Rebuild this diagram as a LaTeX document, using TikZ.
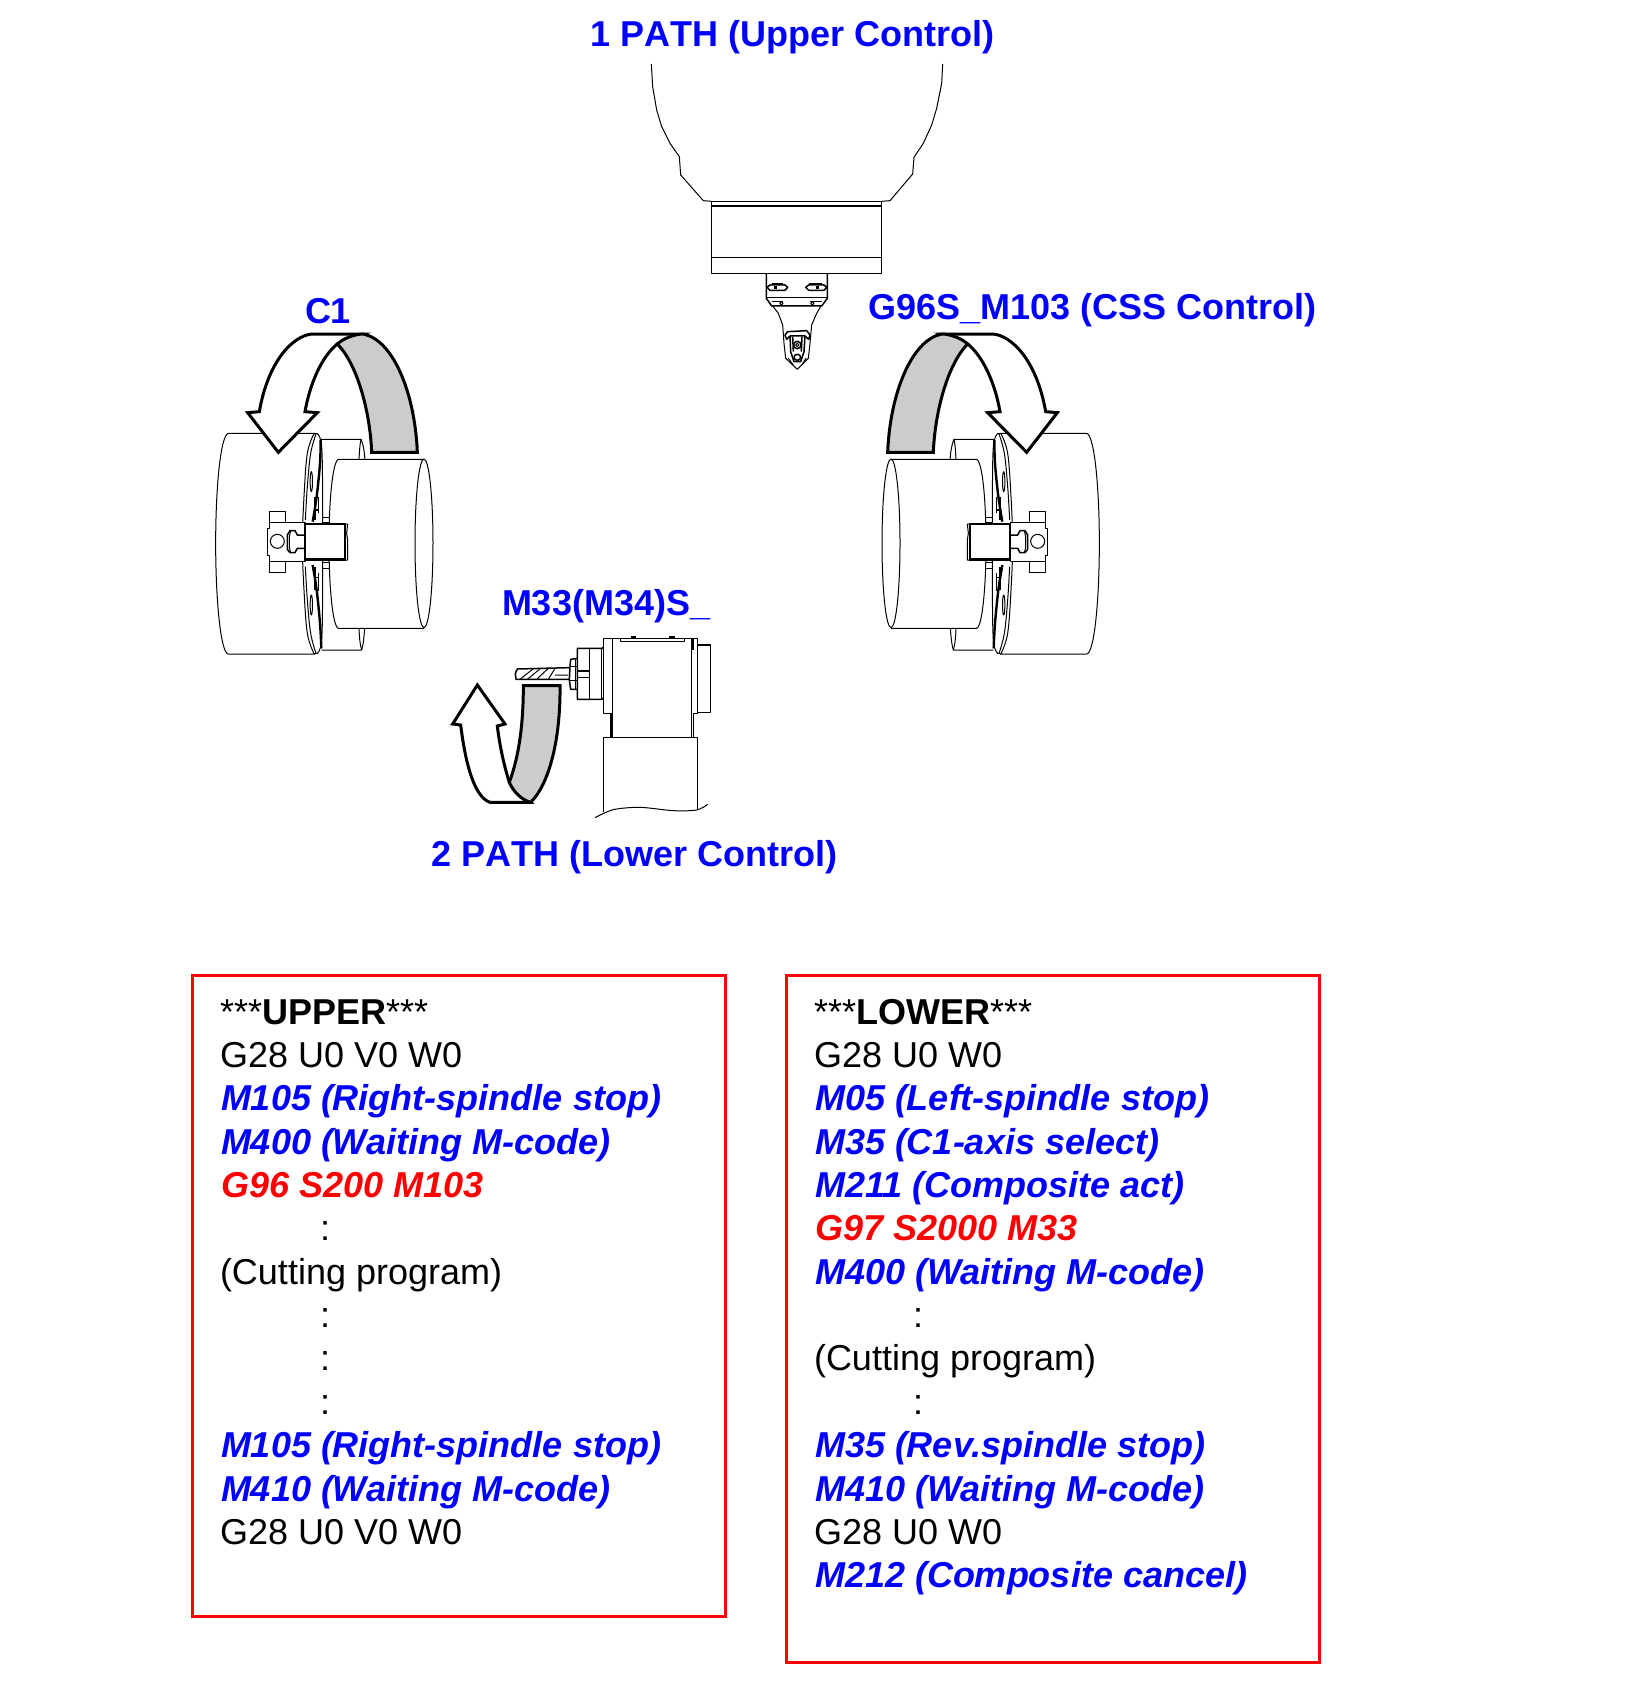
\documentclass[tikz,border=0pt]{standalone}
\usepackage{fontspec}
\setmainfont{Liberation Sans}
\newfontfamily\nokernfont[Kerning=Off]{Liberation Sans}
\definecolor{bandgray}{HTML}{CCCCCC}
\definecolor{pureblue}{HTML}{0000FF}
\definecolor{purered}{HTML}{FF0000}
\tikzset{
  thinl/.style={draw=black,line width=1pt,line join=round},
  midl/.style={draw=black,line width=1.5pt,line join=round},
  thickl/.style={draw=black,line width=2.4pt,line join=miter},
  band/.style={draw=black,line width=3pt,line join=miter},
  title/.style={anchor=base west,inner sep=0pt,outer sep=0pt,text=pureblue,font=\fontsize{36}{43}\selectfont\bfseries},
  plain/.style={anchor=base west,inner sep=0pt,outer sep=0pt,text=black,font=\fontsize{36}{43}\selectfont},
  bluecode/.style={anchor=base west,inner sep=0pt,outer sep=0pt,text=pureblue,font=\fontsize{36}{43}\selectfont\bfseries\itshape},
  redcode/.style={anchor=base west,inner sep=0pt,outer sep=0pt,text=purered,font=\fontsize{36}{43}\selectfont\bfseries\itshape},
  dots/.style={anchor=base,inner sep=0pt,outer sep=0pt,text=black,font=\fontsize{36}{43}\selectfont},
  frame/.style={draw=purered,line width=3pt,fill=none},
}
\newcommand{\chuckbody}{%
  % middle cylinder
  \draw[thinl] (362,358) -- (483,358) .. controls (490,372) and (493,395) .. (495,420);
  \draw[thinl] (483,358) .. controls (479,375) and (478,400) .. (477,420);
  \draw[thinl] (365,990) -- (485,990) .. controls (490,975) and (492,950) .. (494,925);
  \draw[thinl] (485,990) .. controls (480,975) and (478,950) .. (477,925);
  \draw[thinl] (350,592) -- (387,592) (350,608) -- (387,608) (350,728) -- (387,728) (350,746) -- (387,746);
  % large cylinder
  \draw[thinl,fill=white] (345,340) -- (85,340) .. controls (62,345) and (47,500) .. (47,670)
     .. controls (47,840) and (62,1000) .. (85,1002) -- (345,1002);
  % disc
  \draw[thinl,fill=white] plot[smooth,tension=.6] coordinates {(342,341) (322,400) (312,530) (307,670) (312,810) (322,940) (342,1001)}
     -- plot[smooth,tension=.6] coordinates {(352,1000) (365,960) (368,800) (368,670) (368,540) (365,380) (352,341)} -- cycle;
  \draw[thinl] plot[smooth,tension=.6] coordinates {(348,342) (332,400) (322,500) (316,600)};
  \draw[thinl] plot[smooth,tension=.6] coordinates {(316,740) (322,840) (332,940) (348,1000)};
  \draw[thickl] plot[smooth,tension=.6] coordinates {(362,360) (360,430) (350,530) (338,605)};
  \draw[thickl] plot[smooth,tension=.6] coordinates {(338,735) (350,810) (360,910) (364,985)};
  \draw[thinl] (334,485) ellipse [x radius=3.5,y radius=30];
  \draw[thinl] (334,855) ellipse [x radius=3.5,y radius=30];
  \draw[midl] (345,530) -- (345,600) (355,530) -- (355,580) (343,570) -- (358,570);
  \draw[midl] (345,740) -- (345,810) (355,760) -- (355,812) (343,772) -- (358,772);
  % right cylinder
  \draw[thinl,fill=white] (672,418) -- (415,418) .. controls (398,425) and (387,540) .. (387,670)
     .. controls (387,800) and (398,920) .. (415,925) -- (672,925);
  \draw[thinl,fill=white] (672,670) ellipse [x radius=27,y radius=253];
  % holder
  \draw[thinl,fill=white] (208,607) -- (208,575) -- (256,575) -- (256,607);
  \draw[thinl,fill=white] (208,725) -- (208,757) -- (256,757) -- (256,725);
  \draw[thinl,fill=white] (315,607) -- (208,607) -- (208,625) -- (203,625) -- (203,705) -- (208,705) -- (208,725) -- (315,725) -- cycle;
  \draw[thinl] (232,664) circle [radius=21];
  \draw[midl] (315,645) -- (292,645) -- (285,632) -- (270,632) -- (262,645) -- (262,688) -- (270,698) -- (285,698) -- (292,685) -- (315,685);
  \draw[thinl] (272,632) -- (268,650) -- (268,682) -- (272,698);
  % tool
  \draw[thinl,fill=white] (435,612) -- (443,612) -- (440,640) -- (443,660) -- (443,720) -- (435,720);
  \draw[thickl,fill=white] (315,612) rectangle (435,718);
}
\newcommand{\chuckarrow}{%
  \draw[band,fill=white] (412,72) -- (490,42) -- (335,42)
     .. controls (280,48) and (205,120) .. (178,275) -- (143,278) -- (235,397) -- (352,278) -- (315,275)
     .. controls (330,190) and (365,110) .. (412,72) -- cycle;
  \draw[band,fill=bandgray] (652,397) -- (515,397)
     .. controls (510,270) and (470,130) .. (412,72)
     .. controls (430,55) and (465,42) .. (490,42)
     .. controls (580,60) and (645,220) .. (652,397) -- cycle;
}
\begin{document}
\begin{tikzpicture}[x=1pt,y=-1pt]
\useasboundingbox (0,0) rectangle (1624,1704);

% ---------- upper turret ----------
\begin{scope}[shift={(620,50)},scale=1/3]
  \draw[thinl] (94,42) -- (98,110) -- (110,180) -- (125,230) -- (150,280) -- (178,320) -- (182,375) -- (250,452) -- (275,454);
  \draw[thinl] (968,42) -- (965,100) -- (950,175) -- (935,225) -- (910,280) -- (882,322) -- (878,372) -- (810,452) -- (785,454);
  \draw[midl] (274,454) rectangle (785,670);
  \draw[midl] (274,468) -- (785,468) (274,622) -- (785,622);
  \draw[midl] (439,670) -- (439,745) -- (455,768) -- (605,768) -- (622,745) -- (622,670);
  \draw[midl] (439,743) -- (622,743);
  \draw[midl] (441,712) -- (450,705) -- (495,705) -- (503,712) -- (495,721) -- (450,721) -- cycle;
  \draw[thinl] (455,700) -- (490,700);
  \draw[midl] (557,712) -- (566,705) -- (612,705) -- (620,712) -- (612,721) -- (566,721) -- cycle;
  \draw[thinl] (566,700) -- (605,700);
  \fill (462,707) rectangle (472,717);
  \fill (588,707) rectangle (598,717);
  \draw[thinl] (455,755) -- (490,755) (570,755) -- (605,755);
  \draw[thinl] (484,760) circle [radius=5] (577,760) circle [radius=5];
  \draw[thinl] (458,768) -- (475,790) -- (488,825) -- (492,880) -- (497,925) -- (532,958) -- (565,925) -- (570,880) -- (575,825) -- (590,790) -- (603,768);
  \draw[midl] (495,855) -- (503,845) -- (560,842) -- (570,855) -- (566,868) -- (555,858) -- (510,858) -- (500,868) -- cycle;
  \draw[midl] (510,858) -- (512,905) -- (522,935) -- (542,935) -- (552,905) -- (555,858);
  \draw[midl] (518,860) -- (520,905) (546,860) -- (544,905);
  \draw[midl] (532,885) circle [radius=11];
  \draw[thinl] (532,885) circle [radius=5];
  \draw[midl] (532,922) ellipse [x radius=10,y radius=9];
  \draw[thinl] (505,925) -- (520,945) (558,925) -- (545,945);
\end{scope}

% ---------- left chuck ----------
\begin{scope}[shift={(200,320)},scale=1/3]
  \chuckbody
  \chuckarrow
\end{scope}

% ---------- right chuck ----------
\begin{scope}[shift={(1115,320)},xscale=-1/3,yscale=1/3]
  \chuckbody
\end{scope}
\begin{scope}[shift={(1105,320)},xscale=-1/3,yscale=1/3]
  \chuckarrow
\end{scope}

% ---------- lower spindle ----------
\begin{scope}[shift={(440,620)},scale=1/3]
  \draw[band,fill=white] (208,487) .. controls (190,430) and (178,370) .. (172,318) -- (195,312) -- (112,195) -- (38,312) -- (62,315)
     .. controls (75,420) and (100,530) .. (150,547) -- (272,547) -- cycle;
  \draw[band,fill=bandgray] (250,197) -- (360,197)
     .. controls (362,350) and (330,490) .. (272,547)
     .. controls (245,540) and (220,515) .. (208,487)
     .. controls (240,400) and (250,300) .. (250,197) -- cycle;
  % base
  \draw[midl] (490,575) -- (490,352) -- (772,352) -- (772,568);
  \draw[thinl] plot[smooth,tension=.5] coordinates {(465,593) (520,569) (600,562) (700,572) (770,570) (803,553)};
  % body
  \draw[midl] (515,352) -- (515,280) -- (490,280) -- (490,55) -- (772,55) -- (772,280) -- (760,280) -- (760,352);
  \draw[thickl] (515,352) -- (515,280);
  \draw[midl] (518,55) -- (518,280) (755,90) -- (755,352);
  \draw[thickl] (757,55) -- (757,90);
  \draw[thinl] (541,55) -- (541,65) -- (733,65) -- (733,55);
  \draw[thickl] (572,53) -- (588,53) (688,53) -- (704,53);
  \draw[midl] (772,75) -- (812,75) -- (812,277) -- (772,277);
  % spindle nose
  \draw[midl] (490,82) -- (485,85) -- (412,85) -- (412,238) -- (485,238) -- (490,235);
  \draw[midl] (485,85) -- (485,238) (448,85) -- (448,238) (412,153) -- (448,153) (412,172) -- (448,172);
  \draw[midl] (412,115) -- (392,118) -- (390,140) -- (388,180) -- (392,208) -- (412,208);
  \draw[thinl] (405,115) -- (405,208) (390,140) -- (412,140) (390,180) -- (412,180);
  % drill
  \draw[midl] (388,143) -- (232,147) -- (226,160) -- (228,178) -- (388,178);
  \draw[thinl] (240,178) -- (280,146) (262,178) -- (302,145) (290,178) -- (325,145) (325,178) -- (345,145) (345,165) -- (385,165);
\end{scope}

% ---------- titles ----------
\node[title,font=\fontsize{36}{43}\selectfont\nokernfont\bfseries] (t1) at (590.5,47) {1 PATH (Upper Control)};
\node[title] (t2) at (868.5,319) {G96S\_M103 (CSS Control)};
\node[title] (t3) at (305,323) {C1};
\node[title] (t4) at (502,615) {M33(M34)S\_};
\node[title,font=\fontsize{36}{43}\selectfont\nokernfont\bfseries] (t5) at (431.5,866) {2 PATH (Lower Control)};

% ---------- frames ----------
\draw[frame] (192.5,975) -- (725,975) -- (725,1616) -- (192.5,1616) -- cycle;
\draw[frame] (786.5,975) -- (1319,975) -- (1319,1662) -- (786.5,1662) -- cycle;

% ---------- upper program ----------
\def\linestep{43.37}
\def\basey{1024}
\node[plain]    (u0) at (220,\basey) {***\textbf{UPPER}***};
\node[plain]    (u1) at (220,{\basey+1*\linestep}) {G28 U0 V0 W0};
\node[bluecode] (u2) at (221,{\basey+2*\linestep}) {M105 (Right-spindle stop)};
\node[bluecode] (u3) at (221,{\basey+3*\linestep}) {M400 (Waiting M-code)};
\node[redcode]  (u4) at (221,{\basey+4*\linestep}) {G96 S200 M103};
\node[dots]     (u5) at (325,{\basey+5*\linestep}) {:};
\node[plain]    (u6) at (220,{\basey+6*\linestep}) {(Cutting program)};
\node[dots]     (u7) at (325,{\basey+7*\linestep}) {:};
\node[dots]     (u8) at (325,{\basey+8*\linestep}) {:};
\node[dots]     (u9) at (325,{\basey+9*\linestep}) {:};
\node[bluecode] (u10) at (221,{\basey+10*\linestep}) {M105 (Right-spindle stop)};
\node[bluecode] (u11) at (221,{\basey+11*\linestep}) {M410 (Waiting M-code)};
\node[plain]    (u12) at (220,{\basey+12*\linestep}) {G28 U0 V0 W0};

% ---------- lower program ----------
\node[plain]    (l0) at (814,\basey) {***\textbf{LOWER}***};
\node[plain]    (l1) at (814,{\basey+1*\linestep}) {G28 U0 W0};
\node[bluecode] (l2) at (815,{\basey+2*\linestep}) {M05 (Left-spindle stop)};
\node[bluecode] (l3) at (815,{\basey+3*\linestep}) {M35 (C1-axis select)};
\node[bluecode] (l4) at (815,{\basey+4*\linestep}) {M211 (Composite act)};
\node[redcode]  (l5) at (815,{\basey+5*\linestep}) {G97 S2000 M33};
\node[bluecode] (l6) at (815,{\basey+6*\linestep}) {M400 (Waiting M-code)};
\node[dots]     (l7) at (918,{\basey+7*\linestep}) {:};
\node[plain]    (l8) at (814,{\basey+8*\linestep}) {(Cutting program)};
\node[dots]     (l9) at (918,{\basey+9*\linestep}) {:};
\node[bluecode] (l10) at (815,{\basey+10*\linestep}) {M35 (Rev.spindle stop)};
\node[bluecode] (l11) at (815,{\basey+11*\linestep}) {M410 (Waiting M-code)};
\node[plain]    (l12) at (814,{\basey+12*\linestep}) {G28 U0 W0};
\node[bluecode] (l13) at (815,{\basey+13*\linestep}) {M212 (Composite cancel)};
\end{tikzpicture}
\end{document}
